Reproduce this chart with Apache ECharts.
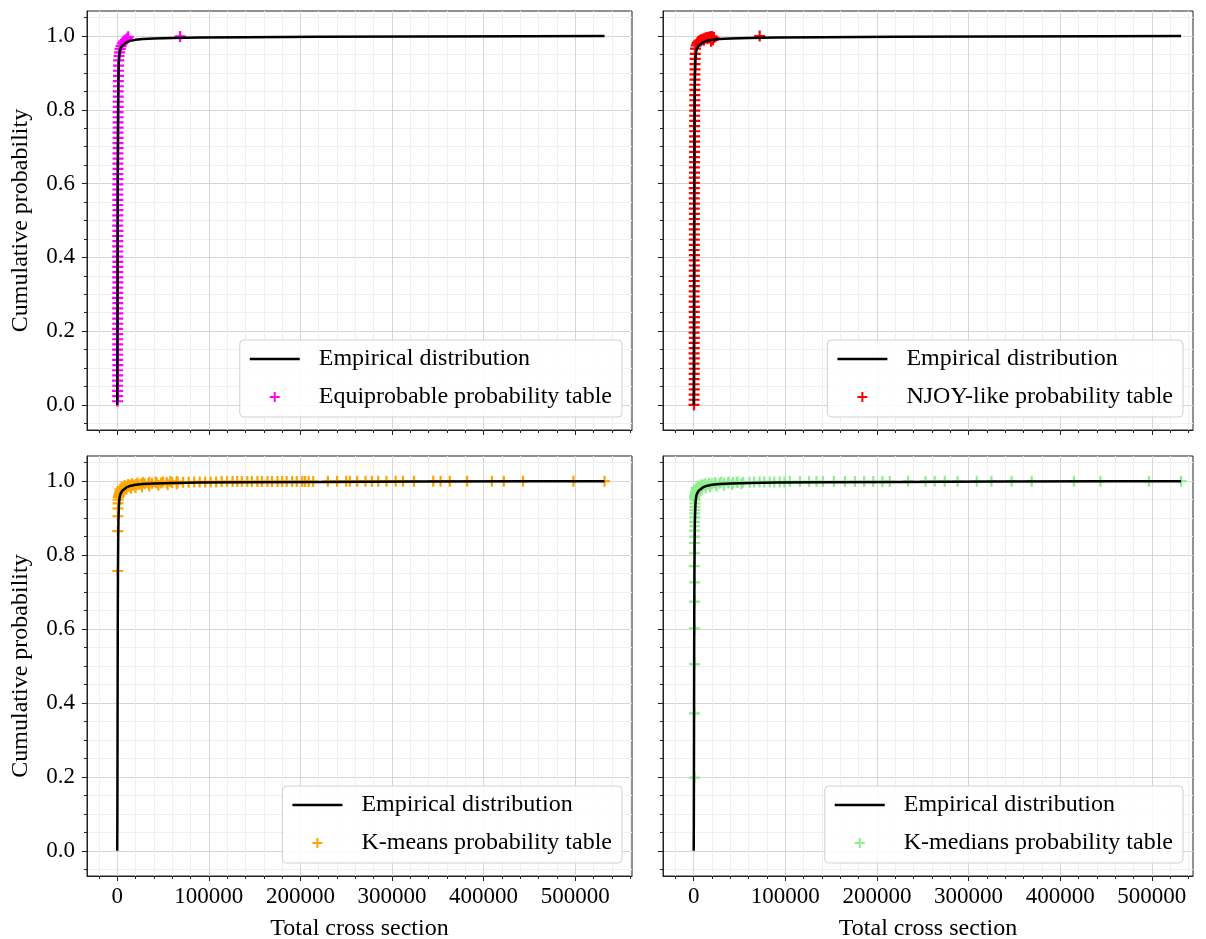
<!DOCTYPE html>
<html><head><meta charset="utf-8">
<script src="https://cdn.jsdelivr.net/npm/echarts@6/dist/echarts.min.js"></script>
<style>html,body{margin:0;padding:0;background:#fff}#c{width:1206px;height:939px}</style>
</head><body><div id="c"></div>
<script>
// ---------------- data ----------------
const xTickValues = [0, 100000, 200000, 300000, 400000, 500000];
const yTickValues = [0, 0.2, 0.4, 0.6, 0.8, 1.0];
const xAxisTitle = 'Total cross section';
const yAxisTitle = 'Cumulative probability';
const lineName = 'Empirical distribution';
const tableNames = ['Equiprobable probability table', 'NJOY-like probability table', 'K-means probability table', 'K-medians probability table'];
const tableColors = ['#ff00ff', '#ff0000', '#ffa500', '#90ee90'];

const empiricalX = [0, 150, 300, 450, 600, 800, 1000, 1300, 1700, 2200, 3000, 4000, 5500, 7500, 10000, 14000, 20000, 28000, 40000, 60000, 90000, 140000, 220000, 330000, 450000, 532000];
const empiricalY = [0, 0.08, 0.25, 0.45, 0.62, 0.75, 0.83, 0.89, 0.925, 0.948, 0.962, 0.968, 0.974, 0.979, 0.983, 0.987, 0.990, 0.992, 0.9935, 0.995, 0.996, 0.997, 0.998, 0.999, 0.9995, 1.0];

const equiPoints = [
[300,0.010],[500,0.024],[400,0.038],[600,0.052],[350,0.066],[550,0.080],[450,0.094],[650,0.108],[400,0.122],[600,0.136],
[350,0.150],[550,0.164],[450,0.178],[650,0.192],[400,0.206],[600,0.220],[500,0.234],[700,0.248],[450,0.262],[650,0.276],
[400,0.290],[600,0.304],[500,0.318],[700,0.332],[450,0.346],[650,0.360],[550,0.374],[750,0.388],[500,0.402],[700,0.416],
[450,0.430],[650,0.444],[550,0.458],[750,0.472],[500,0.486],[700,0.500],[600,0.514],[800,0.528],[550,0.542],[750,0.556],
[500,0.570],[700,0.584],[600,0.598],[800,0.612],[650,0.626],[850,0.640],[700,0.654],[900,0.668],[750,0.682],[950,0.696],
[800,0.710],[1000,0.724],[850,0.738],[1050,0.752],[900,0.766],[1100,0.780],[950,0.794],[1150,0.808],[1000,0.822],[1200,0.836],
[1100,0.850],[1300,0.864],[1200,0.878],[1400,0.892],[1300,0.906],[1500,0.920],[1600,0.934],
[2000,0.946],[2600,0.956],[3300,0.965],[4200,0.973],[5500,0.980],[7000,0.986],[9000,0.990],[11000,0.994],[12000,0.998],
[68700,0.999]
];

const njoyPoints = [
[350,0.000],[550,0.014],[450,0.028],[650,0.042],[400,0.056],[600,0.070],[500,0.084],[700,0.098],[450,0.112],[650,0.126],
[400,0.140],[600,0.154],[500,0.168],[700,0.182],[450,0.196],[650,0.210],[550,0.224],[750,0.238],[500,0.252],[700,0.266],
[450,0.280],[650,0.294],[550,0.308],[750,0.322],[500,0.336],[700,0.350],[600,0.364],[800,0.378],[550,0.392],[750,0.406],
[500,0.420],[700,0.434],[600,0.448],[800,0.462],[550,0.476],[750,0.490],[650,0.504],[850,0.518],[600,0.532],[800,0.546],
[550,0.560],[750,0.574],[650,0.588],[850,0.602],[700,0.616],[900,0.630],[750,0.644],[950,0.658],[800,0.672],[1000,0.686],
[850,0.700],[1050,0.714],[900,0.728],[1100,0.742],[950,0.756],[1150,0.770],[1000,0.784],[1200,0.798],[1050,0.812],[1250,0.826],
[1100,0.840],[1300,0.854],[1200,0.868],[1400,0.882],[1300,0.896],[1500,0.910],[1400,0.924],[1600,0.938],[1700,0.952],[1900,0.966],
[2800,0.975],[3800,0.981],[5000,0.985],[6500,0.988],[8000,0.990],[10000,0.992],[12000,0.994],[14000,0.996],[16000,0.997],[18000,0.998],
[20000,0.999],[11000,0.989],[15000,0.993],[17000,0.995],[19000,0.986],[21000,0.990],[22000,0.996],
[72000,1.000]
];

const kmeansPoints = [
[500,0.757],[600,0.865],[700,0.905],[800,0.926],[900,0.940],[1000,0.950],
[1300,0.957],[1800,0.963],[2500,0.968],[3200,0.972],[4000,0.975],[5000,0.978],[6000,0.980],[7500,0.982],[9000,0.984],[11000,0.986],
[13000,0.987],[15000,0.988],[17500,0.989],[20000,0.990],[23000,0.991],[26000,0.992],[30000,0.993],[34000,0.993],[38000,0.994],[43000,0.995],
[48000,0.995],[54000,0.996],[60000,0.996],[66000,0.997],[72000,0.997],[78000,0.997],[84000,0.998],[90000,0.998],[96000,0.998],[102000,0.998],
[108000,0.998],[114000,0.999],[120000,0.999],[126000,0.999],[131000,0.999],
[3000,0.978],[5000,0.984],[8000,0.988],[12000,0.991],[16000,0.993],[22000,0.995],[28000,0.996],[35000,0.997],[42000,0.998],[50000,0.998],[58000,0.999],[65000,0.999],
[2000,0.958],[4000,0.968],[7000,0.974],[10000,0.978],[15000,0.981],[20000,0.983],[27000,0.985],[35000,0.987],[45000,0.989],[55000,0.991],[65000,0.993],
[136000,0.999],[142000,0.999],[147000,0.999],[153000,0.999],[158000,0.999],[164000,0.999],[169000,0.999],[175000,0.999],[180000,0.999],[185000,0.999],
[191000,0.999],[196000,0.999],[202000,0.999],[205000,0.999],[209000,0.999],[214000,0.999],[230000,1.0],[240000,1.0],[250000,1.0],[254000,1.0],
[262000,1.0],[271000,1.0],[278000,1.0],[285000,1.0],[294000,1.0],[304000,1.0],[312000,1.0],[324000,1.0],[345000,1.0],[353000,1.0],
[363000,1.0],[382000,1.0],[409000,1.0],[422000,1.0],[443000,1.0],[498000,1.0],[532000,1.0]
];

const kmediansPoints = [
[800,0.198],[800,0.372],[900,0.505],[900,0.602],[1000,0.674],[1000,0.726],[700,0.770],[900,0.805],[800,0.833],[1000,0.850],
[900,0.866],[1100,0.878],[1000,0.890],[1200,0.902],[1100,0.913],[1300,0.922],[1200,0.930],[1400,0.940],[1500,0.949],
[1000,0.955],[1200,0.960],[1500,0.965],[2000,0.970],[2800,0.975],[3500,0.978],[4500,0.981],[6000,0.984],[8000,0.986],[10000,0.988],
[13000,0.990],[16000,0.991],[20000,0.992],[24000,0.993],[28000,0.994],[33000,0.995],[38000,0.995],[43000,0.996],[48000,0.996],[54000,0.997],
[61000,0.997],[66000,0.997],[72000,0.998],[77000,0.998],[83000,0.998],[88000,0.998],[94000,0.998],[99000,0.998],[105000,0.999],
[2500,0.962],[4000,0.970],[6000,0.975],[9000,0.979],[13000,0.982],[18000,0.985],[25000,0.987],[33000,0.989],[42000,0.991],[52000,0.993],
[3000,0.982],[5000,0.987],[8000,0.990],[12000,0.993],[17000,0.995],[23000,0.996],[30000,0.997],[38000,0.998],[47000,0.998],
[116000,0.999],[126000,0.999],[134000,0.999],[141000,0.999],[153000,0.999],[165000,0.999],[176000,0.999],[186000,0.999],[196000,0.999],[206000,0.999],
[214000,0.999],[234000,1.0],[253000,1.0],[263000,1.0],[274000,1.0],[288000,1.0],[309000,1.0],[325000,1.0],[347000,1.0],[369000,1.0],
[415000,1.0],[444000,1.0],[497000,1.0],[532000,1.0]
];

const tablePoints = [equiPoints, njoyPoints, kmeansPoints, kmediansPoints];

// ---------------- layout / style ----------------
const FONT = 'Liberation Serif';
const W = 1206, H = 939;
const panels = [
  {left: 87,  top: 11,  w: 545, h: 419, xmin: -33000, xmax: 562000, bottom: false, leftCol: true},
  {left: 663, top: 11,  w: 530, h: 419, xmin: -33500, xmax: 545000, bottom: false, leftCol: false},
  {left: 87,  top: 456, w: 545, h: 420, xmin: -33000, xmax: 562000, bottom: true,  leftCol: true},
  {left: 663, top: 456, w: 530, h: 420, xmin: -33500, xmax: 545000, bottom: true,  leftCol: false}
];
const PLUS = 'path://M4,0H6V4H10V6H6V10H4V6H0V4H4Z';
const LINE_ICON = 'path://M0,0H50V2.5H0Z';
const empData = empiricalX.map((x, i) => [x, empiricalY[i]]);

const grids = [], xAxes = [], yAxes = [], series = [], legends = [];
panels.forEach((p, i) => {
  grids.push({left: p.left, top: p.top, width: p.w, height: p.h, show: true, borderColor: '#222', borderWidth: 1,
              backgroundColor: 'transparent', containLabel: false, outerBoundsMode: 'none'});
  xAxes.push({
    type: 'value', gridIndex: i, min: p.xmin, max: p.xmax, minInterval: 100000, maxInterval: 100000,
    name: p.bottom ? xAxisTitle : '', nameLocation: 'middle', nameGap: 41,
    nameTextStyle: {fontFamily: FONT, fontSize: 24, color: '#000'},
    axisLine: {show: true, onZero: false, lineStyle: {color: '#222', width: 1}},
    axisTick: {show: true, length: 5, customValues: xTickValues, lineStyle: {color: '#222', width: 1}},
    minorTick: {show: true, splitNumber: 5, length: 3, lineStyle: {color: '#222', width: 1}},
    axisLabel: {show: p.bottom, customValues: xTickValues, formatter: v => String(Math.round(v)), fontFamily: FONT, fontSize: 23, color: '#000', margin: 9},
    splitLine: {show: true, lineStyle: {color: '#d6d6d6', width: 1}},
    minorSplitLine: {show: true, lineStyle: {color: '#f0f0f0', width: 1}}
  });
  yAxes.push({
    type: 'value', gridIndex: i, min: -0.068, max: 1.068, minInterval: 0.2, maxInterval: 0.2,
    name: p.leftCol ? yAxisTitle : '', nameLocation: 'middle', nameGap: 54,
    nameTextStyle: {fontFamily: FONT, fontSize: 24, color: '#000'},
    axisLine: {show: true, onZero: false, lineStyle: {color: '#222', width: 1}},
    axisTick: {show: true, length: 5, customValues: yTickValues, lineStyle: {color: '#222', width: 1}},
    minorTick: {show: true, splitNumber: 4, length: 3, lineStyle: {color: '#222', width: 1}},
    axisLabel: {show: p.leftCol, customValues: yTickValues, formatter: v => v.toFixed(1), fontFamily: FONT, fontSize: 23, color: '#000', margin: 12},
    splitLine: {show: true, lineStyle: {color: '#d6d6d6', width: 1}},
    minorSplitLine: {show: true, lineStyle: {color: '#f0f0f0', width: 1}}
  });
  series.push({
    type: 'scatter', name: tableNames[i], xAxisIndex: i, yAxisIndex: i,
    data: tablePoints[i], symbol: PLUS, symbolSize: 11,
    itemStyle: {color: tableColors[i], opacity: 1}, z: 2, silent: true, animation: false
  });
  series.push({
    type: 'line', name: lineName, xAxisIndex: i, yAxisIndex: i,
    data: empData, symbol: 'none', showSymbol: false,
    lineStyle: {color: '#000', width: 2.5}, itemStyle: {color: '#000'}, z: 3, silent: true, animation: false
  });
  legends.push({
    orient: 'vertical', align: 'left',
    right: W - (p.left + p.w) + 10, bottom: H - (p.top + p.h) + 13,
    data: [{name: lineName, icon: LINE_ICON}, {name: tableNames[i], icon: PLUS}],
    itemWidth: 50, itemHeight: 10, itemGap: 12,
    padding: [6, 10, 7, 10],
    backgroundColor: 'rgba(255,255,255,0.85)', borderColor: '#d0d0d0', borderWidth: 1, borderRadius: 4,
    textStyle: {fontFamily: FONT, fontSize: 24, color: '#000', lineHeight: 26, padding: [0, 0, 0, 14]},
    selectedMode: false
  });
});

const chart = echarts.init(document.getElementById('c'), null, {renderer: 'canvas'});
chart.setOption({
  backgroundColor: '#fff',
  animation: false,
  grid: grids, xAxis: xAxes, yAxis: yAxes, series: series, legend: legends
});
</script></body></html>
